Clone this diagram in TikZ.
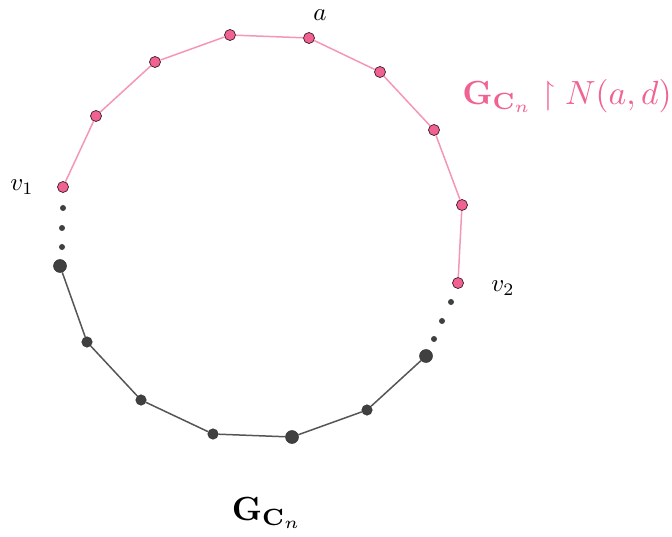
\documentclass[tikz,border=0pt]{standalone}
\usepackage{amssymb}
\usepackage{amsmath}
\usepackage{bm}
\usetikzlibrary{positioning}
\usetikzlibrary{calc}

\definecolor{nbhdpink}{RGB}{240,98,146}
\definecolor{nbhdedge}{RGB}{245,150,182}
\definecolor{cyclegray}{RGB}{64,64,64}
\definecolor{cycleedge}{RGB}{85,85,85}

\tikzset{
    nbhd/.style={circle, fill=nbhdpink, draw=black!75!nbhdpink, line width=0.7pt, inner sep=0pt, minimum size=11pt},
    bigdot/.style={circle, fill=cyclegray, draw=black!80, line width=0.5pt, inner sep=0pt, minimum size=13pt},
    smalldot/.style={circle, fill=cyclegray, draw=black!80, line width=0.5pt, inner sep=0pt, minimum size=10.5pt},
    gapdot/.style={circle, fill=cyclegray, inner sep=0pt, minimum size=6pt},
    nbhdline/.style={draw=nbhdedge, line width=1.5pt},
    cycleline/.style={draw=cycleedge, line width=1.5pt},
    lbl/.style={scale=2.5, transform shape, inner sep=0.5pt},
    biglbl/.style={scale=3.35, transform shape, inner sep=0.5pt}
}

\begin{document}
\begin{tikzpicture}[x=1pt, y=-1pt]
    \useasboundingbox (0,0) rectangle (672,537);

        % neighbourhood of a
        \node [nbhd] (v1) at (63,187) {};
        \node [nbhd] (p2) at (96,116) {};
        \node [nbhd] (p3) at (155,62) {};
        \node [nbhd] (p4) at (230,35) {};
        \node [nbhd] (a) at (309,38) {};
        \node [nbhd] (p6) at (380,72) {};
        \node [nbhd] (p7) at (434,130) {};
        \node [nbhd] (p8) at (462,205) {};
        \node [nbhd] (v2) at (458,283) {};

        % rest of the cycle
        \node [bigdot] (c1) at (60,266) {};
        \node [smalldot] (c2) at (87,342) {};
        \node [smalldot] (c3) at (141,400) {};
        \node [smalldot] (c4) at (213,434) {};
        \node [bigdot] (c5) at (292,437) {};
        \node [smalldot] (c6) at (367,410) {};
        \node [bigdot] (c7) at (426,356) {};

        \node [gapdot] (l1) at (63,208) {};
        \node [gapdot] (l2) at (62,228) {};
        \node [gapdot] (l3) at (62,247) {};
        \node [gapdot] (r1) at (451,302) {};
        \node [gapdot] (r2) at (442,321) {};
        \node [gapdot] (r3) at (434,339) {};

        \draw [nbhdline] (v1) -- (p2) -- (p3) -- (p4) -- (a) -- (p6) -- (p7) -- (p8) -- (v2);
        \draw [cycleline] (c1) -- (c2) -- (c3) -- (c4) -- (c5) -- (c6) -- (c7);

        % labels
        \node [lbl] (alabel) at (320,15) {$a$};
        \node [lbl] (v1label) at (22,187) {$v_1$};
        \node [lbl] (v2label) at (503,288) {$v_2$};
        \node [biglbl, text=nbhdpink] (restr) at (567,96) {$\mathbf{G}_{\mathbf{C}_n}\upharpoonright N(a,d)$};
        \node [biglbl] (gcn) at (267,513) {$\mathbf{G}_{\mathbf{C}_n}$};

\end{tikzpicture}
\end{document}
